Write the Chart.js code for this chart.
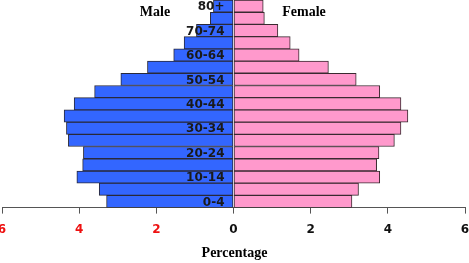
<!DOCTYPE html>
<html lang="en">
<head>
    <meta charset="UTF-8">
    <title>Population Pyramid</title>
    <script src="https://cdn.jsdelivr.net/npm/chart.js@4.4.1/dist/chart.umd.min.js"></script>
    <style>
        html, body { margin: 0; padding: 0; background: #ffffff; }
        .wrap { position: relative; width: 469px; height: 263px; }
    </style>
</head>
<body>
    <div class="wrap"><canvas id="pyramid"></canvas></div>

    <script>
        // age groups, bottom to top
        const ageGroups = ['0-4', '5-9', '10-14', '15-19', '20-24', '25-29', '30-34', '35-39',
            '40-44', '45-49', '50-54', '55-59', '60-64', '65-69', '70-74', '75-79', '80+'];
        // percentage of population
        const malePct = [3.29, 3.48, 4.06, 3.91, 3.89, 4.28, 4.33, 4.39,
            4.13, 3.60, 2.92, 2.23, 1.55, 1.28, 0.96, 0.60, 0.52];
        const femalePct = [3.07, 3.24, 3.79, 3.71, 3.77, 4.17, 4.34, 4.52,
            4.34, 3.79, 3.18, 2.46, 1.70, 1.47, 1.15, 0.80, 0.77];
        const xTicks = [-6, -4, -2, 0, 2, 4, 6];

        // labels inside the bars, plus Male / Female / Percentage
        const textPlugin = {
            id: 'pyramidText',
            afterDatasetsDraw(chart) {
                const ctx = chart.ctx;
                const x = chart.scales.x;
                const y = chart.scales.y;
                const zero = x.getPixelForValue(0);
                ctx.save();
                ctx.fillStyle = '#1a1a1a';
                ctx.font = 'bold 12px "DejaVu Sans"';
                ctx.textAlign = 'right';
                ctx.textBaseline = 'middle';
                ageGroups.forEach((g, i) => {
                    if (i % 2 === 0) ctx.fillText(g, zero - 9, y.getPixelForValue(i) + 1);
                });
                ctx.fillStyle = '#000';
                ctx.font = 'bold 14px "Liberation Serif"';
                ctx.textAlign = 'center';
                ctx.fillText('Male', 155, 12);
                ctx.fillText('Female', 304, 12);
                ctx.fillText('Percentage', zero + 1, 253);
                ctx.restore();
            }
        };

        new Chart(document.getElementById('pyramid'), {
            type: 'bar',
            data: {
                labels: ageGroups,
                datasets: [{
                    label: 'Male',
                    data: malePct.map(v => -v),
                    backgroundColor: '#3366ff',
                    borderColor: '#2a2a3a',
                    borderWidth: 1,
                    borderSkipped: false,
                    barPercentage: 1,
                    categoryPercentage: 1
                }, {
                    label: 'Female',
                    data: femalePct,
                    backgroundColor: '#ff99cc',
                    borderColor: '#3a2a30',
                    borderWidth: 1,
                    borderSkipped: false,
                    barPercentage: 1,
                    categoryPercentage: 1
                }]
            },
            options: {
                indexAxis: 'y',
                responsive: true,
                maintainAspectRatio: false,
                animation: false,
                layout: { padding: { left: 2, right: 4, top: 0, bottom: 17 } },
                plugins: {
                    legend: { display: false },
                    tooltip: { enabled: false }
                },
                scales: {
                    y: {
                        stacked: true,
                        reverse: true,
                        display: false
                    },
                    x: {
                        stacked: true,
                        min: -6,
                        max: 6,
                        afterBuildTicks(scale) {
                            scale.ticks = xTicks.map(v => ({ value: v }));
                        },
                        afterFit(scale) {
                            scale.paddingLeft = 0;
                            scale.paddingRight = 0;
                        },
                        grid: {
                            drawOnChartArea: false,
                            drawTicks: true,
                            tickLength: 6,
                            color: '#555'
                        },
                        border: { display: true, color: '#555', width: 1 },
                        ticks: {
                            padding: 9,
                            maxRotation: 0,
                            autoSkip: false,
                            font: { family: 'DejaVu Sans', size: 12, weight: 'bold' },
                            color: ctx => ctx.tick.value < 0 ? '#ee1111' : '#111',
                            callback: v => Math.abs(v)
                        }
                    }
                }
            },
            plugins: [textPlugin]
        });
    </script>
</body>
</html>
